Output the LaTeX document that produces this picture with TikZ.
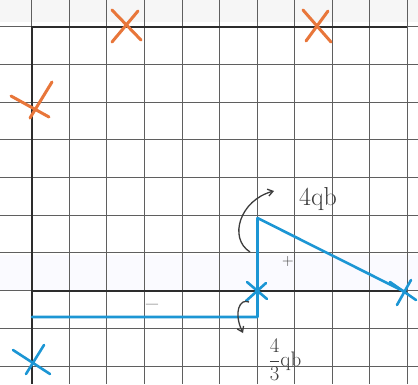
\documentclass[tikz,border=0pt]{standalone}
\usetikzlibrary{arrows.meta}
\definecolor{penorange}{RGB}{232,118,58}
\definecolor{penblue}{RGB}{28,150,212}
\definecolor{gridgray}{RGB}{95,95,95}
\definecolor{axisdark}{RGB}{45,45,45}
\definecolor{pencil}{RGB}{60,60,60}
\tikzset{
  gridline/.style={gridgray, line width=0.9pt},
  axisline/.style={axisdark, line width=2pt},
  orangestroke/.style={penorange, line width=3pt, line cap=round},
  bluestroke/.style={penblue, line width=2.6pt, line cap=round, line join=round},
  pencilarrow/.style={pencil, line width=1.3pt, -{Straight Barb[length=5pt,width=7pt]}},
  hand/.style={pencil, font=\fontsize{26}{26}\selectfont, inner sep=0pt},
}
\begin{document}
\begin{tikzpicture}[x=1pt,y=-1pt]
\useasboundingbox (0,0) rectangle (418,384);
\fill[white] (0,0) rectangle (418,384);
\fill[gray!7] (0,0) rectangle (418,22);
\fill[blue!2] (0,255) rectangle (418,290);
% grid
\foreach \k in {0,...,10} \draw[gridline] ({31.7+37.57*\k},0) -- ({31.7+37.57*\k},384);
\foreach \k in {0,...,9} \draw[gridline] (0,{26.7+37.7*\k}) -- (418,{26.7+37.7*\k});
% axes
\coordinate (o1) at (31.7,26.7);
\coordinate (o1r) at (407,26.7);
\coordinate (o1b) at (31.7,384);
\coordinate (o2) at (31.7,290.7);
\coordinate (o2r) at (407,290.7);
\draw[axisline] (o1r) -- (o1) -- (o1b);
\draw[axisline] (o2) -- (o2r);
% orange crosses
\draw[orangestroke] (112,42) -- (138,11) (112,10) -- (141,40);
\draw[orangestroke] (303,10) -- (331,42) (306,41) -- (328,11);
\draw[orangestroke] (11,96) -- (49,117) (52,82) -- (30,118);
% blue diagram
\coordinate (top) at (257.5,218);
\coordinate (mid) at (257.5,290.7);
\coordinate (corner) at (257.5,317);
\coordinate (right) at (405,292);
\coordinate (left) at (32,317);
\draw[bluestroke] (right) -- (top) -- (corner) -- (left);
% blue crosses
\draw[bluestroke] (247,282) -- (267,299) (246,301) -- (266,283);
\draw[bluestroke] (390,282) -- (416,300) (397,305) -- (411,280);
\draw[bluestroke] (13,350) -- (50,374) (44,345) -- (26,374);
% pencil arrows
\coordinate (a1s) at (250,252);
\coordinate (a1e) at (274,191);
\draw[pencilarrow] (a1s) .. controls (228,238) and (240,200) .. (a1e);
\coordinate (a2s) at (249,302);
\coordinate (a2e) at (243,333);
\draw[pencilarrow] (a2s) .. controls (240,298) and (233,312) .. (a2e);
% labels
\node[hand] (l1) at (318,199) {4qb};
\node[hand, font=\fontsize{16}{16}\selectfont] (plus) at (288,262) {+};
\node[hand] (minus) at (152,308) {--};
\node[hand, font=\fontsize{21}{21}\selectfont, anchor=south] (l2) at (285,381) {$\displaystyle\frac{4}{3}$qb};
\end{tikzpicture}
\end{document}
